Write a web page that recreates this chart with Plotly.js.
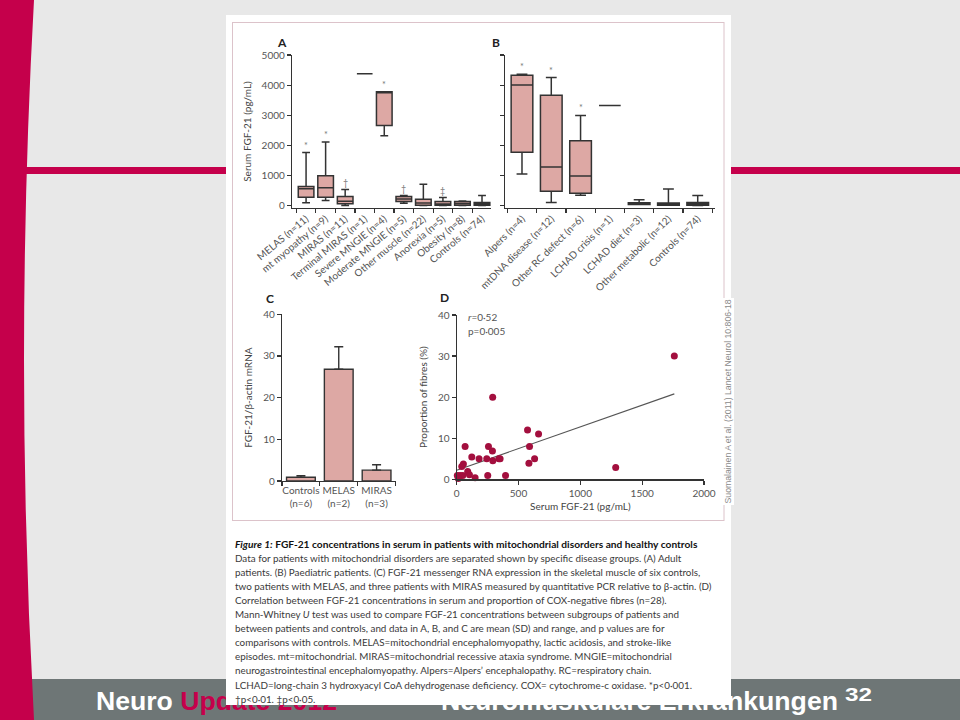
<!DOCTYPE html>
<html><head><meta charset="utf-8">
<script src="https://cdn.plot.ly/plotly-3.0.1.min.js"></script>
<style>
html,body{margin:0;padding:0;width:960px;height:720px;overflow:hidden;background:#e8e8e8;}
#bg{position:absolute;left:0;top:0;}
#chart{position:absolute;left:0;top:0;width:960px;height:720px;}
</style></head><body>
<svg id="bg" width="960" height="720" xmlns="http://www.w3.org/2000/svg">
  <rect width="960" height="720" fill="#e8e8e8"/>
  <rect x="20" y="167" width="940" height="7" fill="#c5004b"/>
  <rect x="20" y="679" width="940" height="41" fill="#6e7676"/>
  <path d="M0,0 L34,0 Q14,360 34,720 L0,720 Z" fill="#c5004b"/>
  <text x="96" y="710" font-family="Liberation Sans" font-weight="bold" font-size="25" textLength="241" lengthAdjust="spacingAndGlyphs"><tspan fill="#ffffff">Neuro </tspan><tspan fill="#c5004b">Update 2012</tspan></text>
  <text x="441" y="710" font-family="Liberation Sans" font-weight="bold" font-size="25" fill="#ffffff" textLength="397" lengthAdjust="spacingAndGlyphs">Neuromuskuläre Erkrankungen</text>
  <text x="845" y="701" font-family="Liberation Sans" font-weight="bold" font-size="19" fill="#ffffff" textLength="27" lengthAdjust="spacingAndGlyphs">32</text>
  <rect x="226" y="15" width="505" height="690" fill="#ffffff"/>
  <rect x="232.5" y="22.5" width="491.5" height="498" fill="none" stroke="#dcc3ca" stroke-width="1"/>
</svg>
<div id="chart"></div>
<script>
// ---------- Panel A: adult patients (mean, SD box, range) ----------
const catsA = ['MELAS (n=11)','mt myopathy (n=9)','MIRAS (n=11)','Terminal MIRAS (n=1)','Severe MNGIE (n=4)','Moderate MNGIE (n=5)','Other muscle (n=22)','Anorexia (n=5)','Obesity (n=8)','Controls (n=74)'];
const meanA   = [560, 590, 140, 4380, 3760, 220, 80, 50, 70, 50];
const sdLowA  = [270, 275, 60, 4380, 2660, 130, 5, 5, 10, 5];
const sdHighA = [630, 985, 300, 4380, 3780, 300, 210, 135, 135, 100];
const minA    = [90, 165, 0, 4380, 2320, 75, 0, 0, 0, 0];
const maxA    = [1760, 2110, 530, 4380, 3780, 330, 710, 265, 150, 330];
const sigA    = ['*','*','†','','*','†','','‡','',''];

// ---------- Panel B: paediatric patients ----------
const catsB = ['Alpers (n=4)','mtDNA disease (n=12)','Other RC defect (n=6)','LCHAD crisis (n=1)','LCHAD diet (n=3)','Other metabolic (n=12)','Controls (n=74)'];
const meanB   = [4005, 1280, 980, 3320, 50, 40, 50];
const sdLowB  = [1765, 475, 410, 3320, 30, 10, 10];
const sdHighB = [4330, 3665, 2150, 3320, 90, 80, 100];
const minB    = [1050, 100, 340, 3320, 30, 10, 0];
const maxB    = [4360, 4250, 2990, 3320, 190, 550, 330];
const sigB    = ['*','*','*','','','',''];
const ticksFGF = [0, 1000, 2000, 3000, 4000, 5000];

// ---------- Panel C: FGF-21 mRNA ----------
const catsC = ['Controls<br>(n=6)','MELAS<br>(n=2)','MIRAS<br>(n=3)'];
const meanC = [0.9, 26.8, 2.6];
const sdC   = [0.4, 5.4, 1.3];
const ticksC = [0, 10, 20, 30, 40];

// ---------- Panel D: correlation ----------
const fgf = [1760, 291, 573, 662, 68, 257, 589, 289, 122, 181, 243, 292, 341, 351, 630, 584, 1286, 54, 41, 89, 103, 149, 251, 395, 5, 27, 49, 13];
const cox = [30, 20, 12, 11, 8, 8, 8, 6.9, 5.4, 5.0, 5.0, 4.5, 5.0, 5.0, 5.0, 3.9, 2.9, 3.7, 3.1, 1.9, 1.1, 0.4, 0.9, 0.9, 0.9, 0.9, 0.9, 0.2];
const fitX = [0, 1760];
const fitY = [2.2, 20.8];
const ticksDx = [0, 500, 1000, 1500, 2000];
const ticksDy = [0, 10, 20, 30, 40];

const captionLines = [
 '<b><i>Figure 1:</i> FGF-21 concentrations in serum in patients with mitochondrial disorders and healthy controls</b>',
 'Data for patients with mitochondrial disorders are separated shown by specific disease groups. (A) Adult',
 'patients. (B) Paediatric patients. (C) FGF-21 messenger RNA expression in the skeletal muscle of six controls,',
 'two patients with MELAS, and three patients with MIRAS measured by quantitative PCR relative to β-actin. (D)',
 'Correlation between FGF-21 concentrations in serum and proportion of COX-negative fibres (n=28).',
 'Mann-Whitney <i>U</i> test was used to compare FGF-21 concentrations between subgroups of patients and',
 'between patients and controls, and data in A, B, and C are mean (SD) and range, and p values are for',
 'comparisons with controls. MELAS=mitochondrial encephalomyopathy, lactic acidosis, and stroke-like',
 'episodes. mt=mitochondrial. MIRAS=mitochondrial recessive ataxia syndrome. MNGIE=mitochondrial',
 'neurogastrointestinal encephalomyopathy. Alpers=Alpers’ encephalopathy. RC=respiratory chain.',
 'LCHAD=long-chain 3 hydroxyacyl CoA dehydrogenase deficiency. COX= cytochrome-c oxidase. *p&lt;0·001.',
 '†p&lt;0·01. ‡p&lt;0·05.'
];

const PX = v => v / 960;
const PY = v => 1 - v / 720;
const FONT = 'Lato, "Open Sans", sans-serif';
const INK = '#333333';
const FILL = '#dda8a4';

const traces = [
  {type:'box', x:catsA, q1:sdLowA, median:meanA, q3:sdHighA, lowerfence:minA, upperfence:maxA,
   xaxis:'x', yaxis:'y', width:0.8, whiskerwidth:0.5, fillcolor:FILL, line:{color:INK, width:1.5},
   boxpoints:false, hoverinfo:'skip', showlegend:false},
  {type:'box', x:catsB, q1:sdLowB, median:meanB, q3:sdHighB, lowerfence:minB, upperfence:maxB,
   xaxis:'x2', yaxis:'y2', width:0.74, whiskerwidth:0.5, fillcolor:FILL, line:{color:INK, width:1.5},
   boxpoints:false, hoverinfo:'skip', showlegend:false},
  {type:'bar', x:catsC, y:meanC, xaxis:'x3', yaxis:'y3', width:0.76,
   marker:{color:FILL, line:{color:INK, width:1.4}},
   error_y:{type:'data', symmetric:false, array:sdC, arrayminus:sdC.map(()=>0), color:INK, thickness:1.4, width:4.5},
   hoverinfo:'skip', showlegend:false},
  {type:'scatter', mode:'lines', x:fitX, y:fitY, xaxis:'x4', yaxis:'y4',
   line:{color:'#555555', width:1.1}, hoverinfo:'skip', showlegend:false},
  {type:'scatter', mode:'markers', x:fgf, y:cox, xaxis:'x4', yaxis:'y4', cliponaxis:false,
   marker:{color:'#a30f3e', size:7}, hoverinfo:'skip', showlegend:false}
];

const base = {showline:true, linecolor:INK, linewidth:1.2, ticks:'outside', ticklen:4, tickwidth:1.2,
  tickcolor:INK, showgrid:false, zeroline:false, fixedrange:true,
  tickfont:{family:FONT, size:10, color:'#555555'}};
const titleFont = {family:FONT, size:10, color:'#444444'};

const annotations = [];
function letter(t, x, y){ annotations.push({text:'<b>'+t+'</b>', xref:'paper', yref:'paper', x:PX(x), y:PY(y),
  xanchor:'center', yanchor:'middle', showarrow:false, font:{family:FONT, size:12, color:'#222'}}); }
letter('A', 282, 42); letter('B', 496, 42); letter('C', 270, 298); letter('D', 444, 297);

sigA.forEach((s,i)=>{ if(s) annotations.push({text:s, xref:'x', yref:'y', x:catsA[i], y:maxA[i], yanchor:'bottom',
  yshift:0, showarrow:false, font:{family:FONT, size:9, color:'#777'}}); });
sigB.forEach((s,i)=>{ if(s) annotations.push({text:s, xref:'x2', yref:'y2', x:catsB[i], y:maxB[i], yanchor:'bottom',
  yshift:0, showarrow:false, font:{family:FONT, size:9, color:'#777'}}); });

annotations.push({text:'<i>r</i>=0·52', xref:'paper', yref:'paper', x:PX(465.5), y:PY(317), xanchor:'left', yanchor:'middle',
  showarrow:false, font:{family:FONT, size:10, color:'#555'}});
annotations.push({text:'p=0·005', xref:'paper', yref:'paper', x:PX(465.5), y:PY(331), xanchor:'left', yanchor:'middle',
  showarrow:false, font:{family:FONT, size:10, color:'#555'}});

annotations.push({text:'Suomalainen A et al. (2011) Lancet Neurol 10:806-18', xref:'paper', yref:'paper',
  x:PX(727.5), y:PY(402), xanchor:'center', yanchor:'middle', textangle:-90, showarrow:false,
  bgcolor:'#ffffff', font:{family:'"Liberation Sans", Arial, sans-serif', size:8.7, color:'#8a8a8a'}});

captionLines.forEach((t,i)=>{ annotations.push({text:t, xref:'paper', yref:'paper', x:PX(233), y:PY(543.5 + 14.1*i),
  xanchor:'left', yanchor:'middle', align:'left', showarrow:false,
  font:{family:FONT, size: i===0 ? 10.2 : 9.85, color: i===0 ? '#111' : '#3a3a3a'}}); });

const layout = {
  width:960, height:720, margin:{l:0, r:0, t:0, b:0},
  paper_bgcolor:'rgba(0,0,0,0)', plot_bgcolor:'rgba(0,0,0,0)',
  showlegend:false, font:{family:FONT},
  xaxis: Object.assign({}, base, {domain:[PX(292), PX(491)], anchor:'y', type:'category', categoryarray:catsA,
    range:[-0.72, 9.46], tickson:'boundaries', tickangle:-40}),
  yaxis: Object.assign({}, base, {domain:[PY(208), PY(55)], anchor:'x', range:[-83, 5000], tickvals:ticksFGF,
    title:{text:'Serum FGF-21 (pg/mL)', font:titleFont, standoff:8}}),
  xaxis2: Object.assign({}, base, {domain:[PX(505), PX(715)], anchor:'y2', type:'category', categoryarray:catsB,
    range:[-0.58, 6.59], tickson:'boundaries', tickangle:-45}),
  yaxis2: Object.assign({}, base, {domain:[PY(208), PY(55)], anchor:'x2', range:[-83, 5000], tickvals:ticksFGF,
    showticklabels:false}),
  xaxis3: Object.assign({}, base, {domain:[PX(282), PX(395.5)], anchor:'y3', type:'category', categoryarray:catsC,
    range:[-0.5, 2.5], tickson:'boundaries', tickangle:0}),
  yaxis3: Object.assign({}, base, {domain:[PY(481), PY(314.3)], anchor:'x3', range:[0, 40], tickvals:ticksC,
    title:{text:'FGF-21/β-actin mRNA', font:titleFont, standoff:8}}),
  xaxis4: Object.assign({}, base, {domain:[PX(456.7), PX(704)], anchor:'y4', range:[0, 2000], tickvals:ticksDx,
    title:{text:'Serum FGF-21 (pg/mL)', font:titleFont, standoff:5}}),
  yaxis4: Object.assign({}, base, {domain:[PY(479.3), PY(315)], anchor:'x4', range:[0, 40], tickvals:ticksDy,
    title:{text:'Proportion of fibres (%)', font:titleFont, standoff:8}}),
  annotations: annotations
};

Plotly.newPlot('chart', traces, layout, {staticPlot:true, displayModeBar:false});
</script>
</body></html>
